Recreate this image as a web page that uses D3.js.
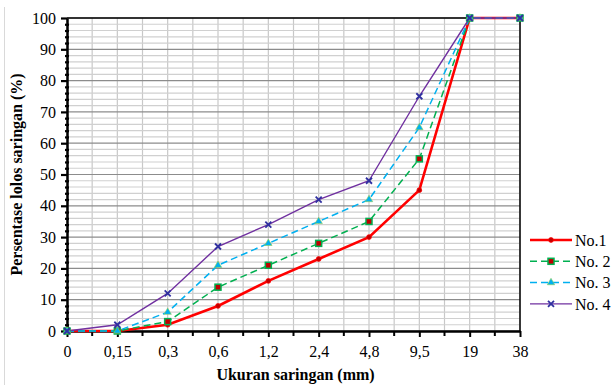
<!DOCTYPE html>
<html>
<head>
<meta charset="utf-8">
<script src="https://cdn.jsdelivr.net/npm/d3@7"></script>
<style>
  body { margin: 0; background: #fff; }
</style>
</head>
<body>
<div id="chart"></div>
<script>
// sieve sizes (mm) and passing percentages
const sizes = ["0", "0,15", "0,3", "0,6", "1,2", "2,4", "4,8", "9,5", "19", "38"];
const no1 = [0, 0, 2, 8, 16, 23, 30, 45, 100, 100];
const no2 = [0, 0, 3, 14, 21, 28, 35, 55, 100, 100];
const no3 = [0, 0, 6, 21, 28, 35, 42, 65, 100, 100];
const no4 = [0, 2, 12, 27, 34, 42, 48, 75, 100, 100];
const yTicks = [0, 10, 20, 30, 40, 50, 60, 70, 80, 90, 100];
const seriesNames = ["No.1", "No. 2", "No. 3", "No. 4"];

const series = [
  {name: seriesNames[0], values: no1, color: "#ff0000", width: 2.6, dash: null, marker: "dot"},
  {name: seriesNames[1], values: no2, color: "#00b050", width: 1.5, dash: "7,4", marker: "square"},
  {name: seriesNames[2], values: no3, color: "#00b0f0", width: 1.5, dash: "7,4", marker: "triangle"},
  {name: seriesNames[3], values: no4, color: "#7030a0", width: 1.4, dash: null, marker: "cross"}
];

const serif = "Liberation Serif";

let width = 614,
  height = 385,
  margin = {top: 18, right: 94, bottom: 54, left: 67};

let svg = d3.select("#chart").append("svg")
  .attr("width", width)
  .attr("height", height);

let innerW = width - margin.left - margin.right,
  innerH = height - margin.top - margin.bottom;

// chart area border (left edge visible only)
svg.append("line")
  .attr("x1", 4.5).attr("x2", 4.5)
  .attr("y1", 7).attr("y2", height)
  .attr("stroke", "#d9d9d9");

let g = svg.append("g").attr("transform", `translate(${margin.left},${margin.top})`);

let x = d3.scalePoint().domain(sizes).range([0, innerW]);
let y = d3.scaleLinear().domain([0, 100]).range([innerH, 0]);
let step = x.step();

// vertical gridlines at every category and halfway between
let vGrid = d3.range(0, (sizes.length - 1) * 2 + 1).map(i => i * step / 2);
g.selectAll(".vgrid").data(vGrid).enter().append("line")
  .attr("x1", d => d).attr("x2", d => d)
  .attr("y1", 0).attr("y2", innerH)
  .attr("stroke", "#c8c8c8").attr("stroke-width", 1.2);

// horizontal minor gridlines every 2
let minorY = d3.range(0, 101, 2).filter(v => v % 10 != 0);
g.selectAll(".hminor").data(minorY).enter().append("line")
  .attr("x1", 0).attr("x2", innerW)
  .attr("y1", d => y(d)).attr("y2", d => y(d))
  .attr("stroke", "#d0d0d0").attr("stroke-width", 1.2);

// horizontal major gridlines
g.selectAll(".hmajor").data(yTicks).enter().append("line")
  .attr("x1", 0).attr("x2", innerW)
  .attr("y1", d => y(d)).attr("y2", d => y(d))
  .attr("stroke", "#8c8c8c").attr("stroke-width", 1.2);

// frame
g.append("line").attr("x1", 0).attr("x2", innerW).attr("y1", 0).attr("y2", 0)
  .attr("stroke", "#000").attr("stroke-width", 1.5);
g.append("line").attr("x1", innerW).attr("x2", innerW).attr("y1", 0).attr("y2", innerH)
  .attr("stroke", "#000").attr("stroke-width", 1.5);

// y axis with minor ticks
let yMinorAxis = d3.axisLeft(y).tickValues(minorY).tickSize(4).tickFormat("");
g.append("g").attr("class", "y minor").call(yMinorAxis)
  .call(s => s.select(".domain").remove())
  .call(s => s.selectAll("line").attr("stroke-width", 2.2).attr("transform", "translate(2,0)"));

let yAxis = d3.axisLeft(y).tickValues(yTicks).tickSize(6).tickPadding(5).tickSizeOuter(0);
g.append("g").attr("class", "y axis").call(yAxis)
  .call(s => s.select(".domain").attr("stroke-width", 2.5))
  .call(s => s.selectAll(".tick line").attr("stroke-width", 2.2))
  .call(s => s.selectAll(".tick text").attr("fill", "#000")
    .style("font-family", serif).style("font-size", "16px"));

// x axis with minor ticks between categories
let xMinor = d3.range(0, sizes.length - 1).map(i => (i + 0.5) * step);
g.selectAll(".xminor").data(xMinor).enter().append("line")
  .attr("x1", d => d).attr("x2", d => d)
  .attr("y1", innerH).attr("y2", innerH + 5)
  .attr("stroke", "#000").attr("stroke-width", 2);

let xAxis = d3.axisBottom(x).tickSize(6).tickPadding(9).tickSizeOuter(0);
g.append("g").attr("class", "x axis")
  .attr("transform", `translate(0,${innerH})`)
  .call(xAxis)
  .call(s => s.select(".domain").attr("stroke-width", 2.5))
  .call(s => s.selectAll(".tick line").attr("stroke-width", 2))
  .call(s => s.selectAll(".tick text").attr("fill", "#000")
    .style("font-family", serif).style("font-size", "16px"));

// lines
let line = d3.line().x((d, i) => x(sizes[i])).y(d => y(d));

function drawMarker(sel, type, color) {
  if (type == "dot") {
    sel.append("circle").attr("r", 2.4).attr("fill", "#c00000").attr("stroke", color).attr("stroke-width", 0.8);
  } else if (type == "square") {
    sel.append("rect").attr("x", -3).attr("y", -3).attr("width", 6).attr("height", 6)
      .attr("fill", "#c00000").attr("stroke", color).attr("stroke-width", 1.5);
  } else if (type == "triangle") {
    sel.append("path").attr("d", d3.symbol(d3.symbolTriangle, 24)).attr("fill", color)
      .attr("stroke", "#92d050").attr("stroke-width", 0.6);
  } else {
    sel.append("path").attr("d", "M-3,-3L3,3M-3,3L3,-3")
      .attr("stroke", "#3030a0").attr("stroke-width", 1.8);
  }
}

series.forEach(s => {
  g.append("path")
    .datum(s.values)
    .attr("fill", "none")
    .attr("stroke", s.color)
    .attr("stroke-width", s.width)
    .attr("stroke-dasharray", s.dash)
    .attr("d", line);
});

series.forEach(s => {
  let pts = g.selectAll(null).data(s.values).enter().append("g")
    .attr("transform", (d, i) => `translate(${x(sizes[i])},${y(d)})`);
  drawMarker(pts, s.marker, s.color);
});

// axis titles
svg.append("text")
  .attr("text-anchor", "middle")
  .style("font-family", serif).style("font-size", "16px").style("font-weight", "bold")
  .attr("transform", `translate(${margin.left + innerW / 2 + 2},${height - 5})`)
  .text("Ukuran saringan (mm)");

svg.append("text")
  .attr("text-anchor", "middle")
  .style("font-family", serif).style("font-size", "16px").style("font-weight", "bold")
  .attr("transform", `translate(22,${margin.top + innerH / 2})rotate(-90)`)
  .text("Persentase lolos saringan (%)");

// legend
let legend = svg.selectAll(".legend").data(series).enter().append("g")
  .attr("transform", (d, i) => `translate(530,${240 + i * 21.3})`);
legend.append("line")
  .attr("x1", 0).attr("x2", 42).attr("y1", 0).attr("y2", 0)
  .attr("stroke", d => d.color)
  .attr("stroke-width", d => d.width)
  .attr("stroke-dasharray", d => d.dash);
legend.each(function(d) {
  let m = d3.select(this).append("g").attr("transform", "translate(21,0)");
  drawMarker(m, d.marker, d.color);
});
legend.append("text")
  .style("font-family", serif).style("font-size", "16px")
  .attr("x", 45)
  .attr("y", 0)
  .attr("dy", "0.35em")
  .text(d => d.name);
</script>
</body>
</html>
